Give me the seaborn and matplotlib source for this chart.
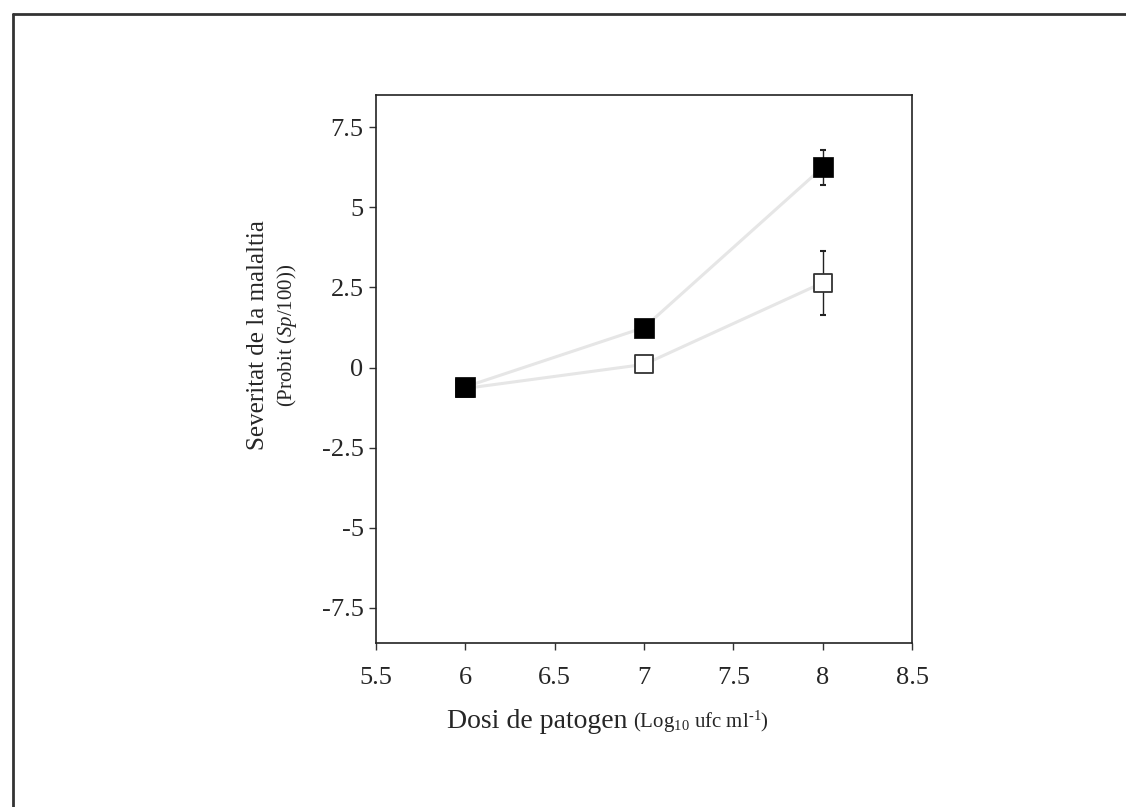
import matplotlib
matplotlib.use("Agg")
import matplotlib.pyplot as plt
import seaborn as sns
import pandas as pd
from matplotlib.lines import Line2D

# data
dose = [6, 7, 8]
sev_filled = [-0.6, 1.25, 6.25]
err_filled = [0.0, 0.0, 0.55]
sev_open = [-0.65, 0.1, 2.65]
err_open = [0.0, 0.0, 1.0]

xticks = [5.5, 6, 6.5, 7, 7.5, 8, 8.5]
xticklabels = ["5.5", "6", "6.5", "7", "7.5", "8", "8.5"]
yticks = [-7.5, -5, -2.5, 0, 2.5, 5, 7.5]
yticklabels = ["-7.5", "-5", "-2.5", "0", "2.5", "5", "7.5"]

sns.set_style("white")
plt.rcParams["font.family"] = ["Liberation Serif", "DejaVu Serif"]
plt.rcParams["mathtext.fontset"] = "custom"
plt.rcParams["mathtext.rm"] = "Liberation Serif"
plt.rcParams["mathtext.it"] = "Liberation Serif:italic"

df = pd.DataFrame({
    "dose": dose * 2,
    "sev": sev_open + sev_filled,
    "err": err_open + err_filled,
    "grp": ["open"] * 3 + ["filled"] * 3,
})

fig = plt.figure(figsize=(11.26, 8.07), dpi=100)
ax = fig.add_axes([0.334, 0.203, 0.476, 0.679])

# faint connecting lines
sns.lineplot(data=df, x="dose", y="sev", hue="grp", palette={"open": "#e6e6e6", "filled": "#e6e6e6"},
             linewidth=2.2, legend=False, ax=ax, zorder=1)

# error bars
for g in ["open", "filled"]:
    d = df[df.grp == g]
    d = d[d.err > 0]
    ax.errorbar(d.dose, d.sev, yerr=d.err, fmt="none", ecolor="#222222",
                elinewidth=1.0, capsize=2, capthick=1.5, zorder=2)

sns.scatterplot(data=df[df.grp == "open"], x="dose", y="sev", marker="s", s=180,
                facecolor="white", edgecolor="#333333", linewidth=1.3, ax=ax, zorder=3)
sns.scatterplot(data=df[df.grp == "filled"], x="dose", y="sev", marker="s", s=220,
                color="black", edgecolor="black", linewidth=0.5, ax=ax, zorder=4)

ax.set_xlim(5.5, 8.5)
ax.set_ylim(-8.6, 8.5)
ax.set_xticks(xticks)
ax.set_xticklabels(xticklabels)
ax.set_yticks(yticks)
ax.set_yticklabels(yticklabels)
ax.tick_params(axis="both", direction="out", length=5, width=1, labelsize=19,
               left=True, bottom=True, color="#333333")
ax.tick_params(axis="x", pad=12)
ax.tick_params(axis="y", pad=4)
ax.set_xlabel("")
ax.set_ylabel("")
for sp in ax.spines.values():
    sp.set_color("#222222")
    sp.set_linewidth(1.2)

# axis labels
fig.text(0.229, 0.585, "Severitat de la malaltia", rotation=90, ha="center", va="center", fontsize=18)
fig.text(0.255, 0.584, r"(Probit ($\mathit{Sp}$/100))", rotation=90, ha="center", va="center", fontsize=15)
fig.text(0.557, 0.098, "Dosi de patogen", ha="right", va="baseline", fontsize=20)
fig.text(0.562, 0.098, r"(Log$_{10}$ ufc ml$^{\text{-}1}$)", ha="left", va="baseline", fontsize=15)

# page frame: top and left edges only
fig.add_artist(Line2D([13 / 1126, 1.0], [1 - 14 / 807, 1 - 14 / 807], transform=fig.transFigure,
                      color="#333333", linewidth=2))
fig.add_artist(Line2D([13 / 1126, 13 / 1126], [0.0, 1 - 14 / 807], transform=fig.transFigure,
                      color="#333333", linewidth=2))

fig.savefig("out.png", dpi=100)
